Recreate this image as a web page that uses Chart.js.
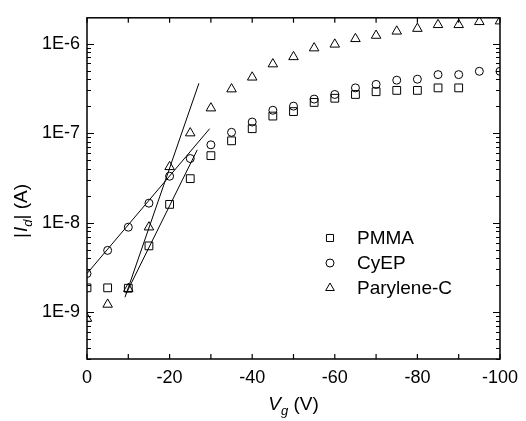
<!DOCTYPE html>
<html>
<head>
<meta charset="utf-8">
<script src="https://cdn.jsdelivr.net/npm/chart.js@4.4.0/dist/chart.umd.min.js"></script>
<style>
  html, body { margin: 0; padding: 0; background: #fff; }
  #wrap { width: 526px; height: 421px; }
</style>
</head>
<body>
<div id="wrap"><canvas id="chart"></canvas></div>
<script>
// Datos (Vg en V, |Id| en A)
const vg = [0, -5, -10, -15, -20, -25, -30, -35, -40, -45, -50, -55, -60, -65, -70, -75, -80, -85, -90, -95, -100];
const pmma = [1.87e-9, 1.87e-9, 1.85e-9, 5.5e-9, 1.6e-8, 3.1e-8, 5.6e-8, 8.2e-8, 1.12e-7, 1.55e-7, 1.74e-7,
              2.2e-7, 2.45e-7, 2.7e-7, 2.9e-7, 3.0e-7, 3.0e-7, 3.2e-7, 3.2e-7];
const cyep = [2.7e-9, 4.9e-9, 8.9e-9, 1.65e-8, 3.3e-8, 5.2e-8, 7.4e-8, 1.02e-7, 1.33e-7, 1.8e-7, 2.0e-7,
              2.4e-7, 2.7e-7, 3.2e-7, 3.5e-7, 3.9e-7, 4.0e-7, 4.5e-7, 4.5e-7, 4.9e-7, 4.9e-7];
const parylene = [8.5e-10, 1.22e-9, 1.83e-9, 8.9e-9, 4.2e-8, 1.0e-7, 1.9e-7, 3.1e-7, 4.2e-7, 5.9e-7, 7.1e-7,
                  8.9e-7, 9.8e-7, 1.13e-6, 1.23e-6, 1.37e-6, 1.47e-6, 1.62e-6, 1.62e-6, 1.75e-6, 1.78e-6];

// Rectas de ajuste (extremos)
const fitParyleneX = [-9.2, -27.1];
const fitParyleneY = [1.47e-9, 3.6e-7];
const fitPmmaX = [-9.5, -26.7];
const fitPmmaY = [1.62e-9, 6.5e-8];
const fitCyepX = [0, -29.7];
const fitCyepY = [2.7e-9, 1.12e-7];

const yTickValues = [1e-9, 1e-8, 1e-7, 1e-6];
const legendNames = ['PMMA', 'CyEP', 'Parylene-C'];
const legendStyles = ['rect', 'circle', 'triangle'];

const FONT = '"Liberation Sans", Arial, sans-serif';

function pts(xs, ys) {
    return ys.map((y, i) => ({ x: xs[i], y: y }));
}

function markerSet(label, data, style, r) {
    return {
        type: 'scatter',
        label: label,
        data: data,
        pointStyle: style,
        pointRadius: r,
        pointHoverRadius: r,
        borderColor: '#000',
        backgroundColor: 'rgba(0,0,0,0)',
        pointBorderWidth: 1,
        showLine: false,
        clip: 0
    };
}

function fitSet(data) {
    return {
        type: 'line',
        data: data,
        borderColor: '#000',
        borderWidth: 1,
        pointRadius: 0,
        fill: false,
        clip: 0
    };
}

function drawMarker(ctx, style, x, y, r) {
    ctx.beginPath();
    if (style === 'rect') {
        const s = r * Math.SQRT1_2;
        ctx.rect(x - s, y - s, 2 * s, 2 * s);
    } else if (style === 'circle') {
        ctx.arc(x, y, r, 0, Math.PI * 2);
    } else {
        ctx.moveTo(x, y - r);
        ctx.lineTo(x + r * 0.866, y + r * 0.5);
        ctx.lineTo(x - r * 0.866, y + r * 0.5);
        ctx.closePath();
    }
    ctx.stroke();
}

// Marco, marcas de los ejes, títulos y leyenda
const framePlugin = {
    id: 'frame',
    afterDraw(chart) {
        const ctx = chart.ctx;
        const a = chart.chartArea;
        const xs = chart.scales.x;
        const ys = chart.scales.y;
        ctx.save();
        ctx.strokeStyle = '#000';
        ctx.lineWidth = 1.5;
        ctx.strokeRect(a.left, a.top, a.right - a.left, a.bottom - a.top);

        ctx.lineWidth = 1.2;
        ctx.beginPath();
        for (let v = 0; v >= -100; v -= 10) {
            const px = xs.getPixelForValue(v);
            ctx.moveTo(px, a.bottom); ctx.lineTo(px, a.bottom - 5);
            ctx.moveTo(px, a.top); ctx.lineTo(px, a.top + 5);
        }
        for (let e = -10; e <= -6; e++) {
            for (let m = 1; m <= 9; m++) {
                const v = m * Math.pow(10, e);
                if (v < ys.min || v > ys.max) continue;
                const py = Math.round(ys.getPixelForValue(v)) + 0.5;
                const len = m === 1 ? 7 : 4;
                ctx.moveTo(a.left, py); ctx.lineTo(a.left + len, py);
                ctx.moveTo(a.right, py); ctx.lineTo(a.right - len, py);
            }
        }
        ctx.stroke();

        // Título eje X: Vg (V)
        ctx.fillStyle = '#000';
        ctx.textBaseline = 'alphabetic';
        const big = '19px ' + FONT;
        const bigI = 'italic 19px ' + FONT;
        const sub = 'italic 13px ' + FONT;
        ctx.font = bigI; const wV = ctx.measureText('V').width;
        ctx.font = sub; const wg = ctx.measureText('g').width;
        ctx.font = big; const wR = ctx.measureText(' (V)').width;
        let x0 = (a.left + a.right) / 2 - (wV + wg + wR) / 2;
        const by = 410;
        ctx.font = bigI; ctx.fillText('V', x0, by); x0 += wV;
        ctx.font = sub; ctx.fillText('g', x0, by + 5); x0 += wg;
        ctx.font = big; ctx.fillText(' (V)', x0, by);

        // Título eje Y: |Id| (A)
        ctx.save();
        ctx.translate(27, 238);
        ctx.rotate(-Math.PI / 2);
        let t = 0;
        ctx.font = big; ctx.fillText('|', t, 0); t += ctx.measureText('|').width + 1;
        ctx.font = bigI; ctx.fillText('I', t, 0); t += ctx.measureText('I').width;
        ctx.font = sub; ctx.fillText('d', t, 5); t += ctx.measureText('d').width;
        ctx.font = big; ctx.fillText('| (A)', t, 0);
        ctx.restore();

        // Leyenda
        ctx.lineWidth = 1;
        ctx.font = '19px ' + FONT;
        ctx.textBaseline = 'middle';
        const rows = [238, 263, 288];
        legendNames.forEach((name, i) => {
            drawMarker(ctx, legendStyles[i], 330, rows[i], i === 1 ? 4 : 5);
            ctx.fillText(name, 357, rows[i] + 1);
        });
        ctx.restore();
    }
};

const ctx = document.getElementById('chart').getContext('2d');
const chart = new Chart(ctx, {
    data: {
        datasets: [
            fitSet(pts(fitParyleneX, fitParyleneY)),
            fitSet(pts(fitPmmaX, fitPmmaY)),
            fitSet(pts(fitCyepX, fitCyepY)),
            markerSet('PMMA', pts(vg, pmma), 'rect', 5.5),
            markerSet('CyEP', pts(vg, cyep), 'circle', 4),
            markerSet('Parylene-C', pts(vg, parylene), 'triangle', 5.5)
        ]
    },
    options: {
        responsive: true,
        maintainAspectRatio: false,
        animation: false,
        layout: { padding: { left: 0, top: 15, right: 19, bottom: 0 } },
        plugins: { legend: { display: false }, tooltip: { enabled: false } },
        scales: {
            x: {
                type: 'linear',
                min: -100,
                max: 0,
                reverse: true,
                grid: { display: false, drawTicks: false },
                border: { display: false },
                ticks: {
                    stepSize: 20,
                    padding: 8,
                    color: '#000',
                    font: { family: FONT, size: 18 },
                    maxRotation: 0,
                    callback: v => String(v)
                },
                afterFit: s => { s.height = 62; }
            },
            y: {
                type: 'logarithmic',
                min: 3.0e-10,
                max: 1.94e-6,
                grid: { display: false, drawTicks: false },
                border: { display: false },
                afterBuildTicks: s => { s.ticks = yTickValues.map(v => ({ value: v })); },
                ticks: {
                    padding: 7,
                    color: '#000',
                    autoSkip: false,
                    font: { family: FONT, size: 18 },
                    callback: v => '1E' + Math.round(Math.log10(v))
                },
                afterFit: s => { s.width = 87; }
            }
        }
    },
    plugins: [framePlugin]
});
</script>
</body>
</html>
